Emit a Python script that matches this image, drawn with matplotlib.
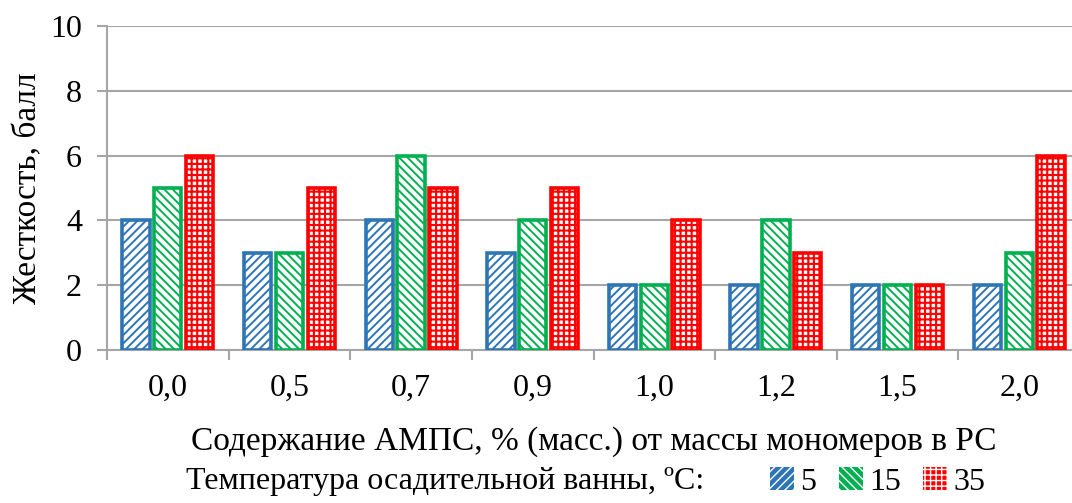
import matplotlib.pyplot as plt
from matplotlib.patches import Patch
from matplotlib.legend_handler import HandlerTuple
import numpy as np

# data
categories = ['0,0', '0,5', '0,7', '0,9', '1,0', '1,2', '1,5', '2,0']
t5 = [4, 3, 4, 3, 2, 2, 2, 2]
t15 = [5, 3, 6, 4, 2, 4, 2, 3]
t35 = [6, 5, 5, 5, 4, 3, 2, 6]
series_labels = ['5', '15', '35']

plt.rcParams['font.family'] = ['Liberation Serif', 'DejaVu Serif']

colors = ['#2E75B6', '#00B050', '#FF0000']
hatches = ['////', '\\\\\\\\', '+++']
hatch_lw = [1.4, 1.4, 1.5]
grid_c = '#A6A6A6'

fig = plt.figure(figsize=(10.72, 5.03), dpi=100)
ax = fig.add_axes([107 / 1072, 153 / 503, 973 / 1072, 324 / 503])

x = np.arange(len(categories))
w = 0.225
step = 0.262
for k, vals in enumerate([t5, t15, t35]):
    with plt.rc_context({'hatch.linewidth': hatch_lw[k]}):
        ax.bar(x + (k - 1) * step, vals, w, facecolor='white', edgecolor=colors[k],
               hatch=hatches[k], linewidth=2.6, zorder=3)

ax.set_xlim(-0.5, len(categories) - 0.5)
ax.set_ylim(0, 10)
ax.set_yticks(range(0, 11, 2))
ax.yaxis.grid(True, color=grid_c, linewidth=1.5, zorder=0)
ax.set_xticks(x)
ax.set_xticklabels(categories, fontsize=23)
ax.tick_params(axis='x', length=0, pad=17)
ax.set_xticks(np.arange(-0.5, len(categories)), minor=True)
ax.tick_params(axis='x', which='minor', length=7, width=1.5, color=grid_c)
ax.tick_params(axis='y', length=7, width=1.5, color=grid_c, labelsize=23, pad=11)
for s in ['top', 'right']:
    ax.spines[s].set_visible(False)
for s in ['left', 'bottom']:
    ax.spines[s].set_color(grid_c)
    ax.spines[s].set_linewidth(1.5)

ax.set_ylabel('Жесткость, балл', fontsize=24, labelpad=5)
ax.set_xlabel('Содержание АМПС, % (масс.) от массы мономеров в РС', fontsize=24, labelpad=17)

fig.text(186 / 1072, 1 - 482 / 503, 'Температура осадительной ванны, \u00baC:', fontsize=23,
         ha='left', va='center')
handles = [(Patch(facecolor=colors[k], edgecolor='none'),
            Patch(facecolor='none', edgecolor='white', hatch=hatches[k], linewidth=0))
           for k in range(3)]
fig.legend(handles, series_labels, loc='center left', bbox_to_anchor=(754 / 1072, 1 - 482 / 503),
           ncol=3, frameon=False, fontsize=23, handlelength=0.75, handleheight=0.75,
           handletextpad=0.2, columnspacing=0.7, borderpad=0,
           handler_map={tuple: HandlerTuple(ndivide=1, pad=0)})

fig.savefig('out.png', dpi=100)
